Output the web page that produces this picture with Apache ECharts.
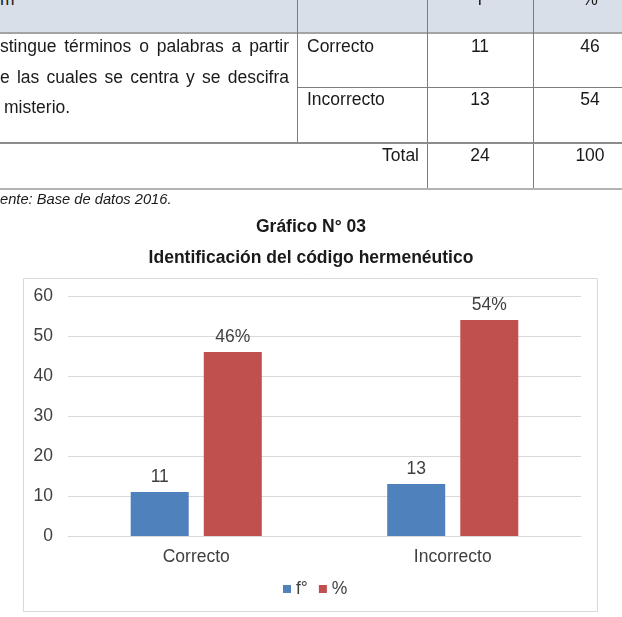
<!DOCTYPE html>
<html><head><meta charset="utf-8">
<script src="https://cdn.jsdelivr.net/npm/echarts@6/dist/echarts.min.js"></script>
<style>
html,body{margin:0;padding:0;width:622px;height:617px;overflow:hidden;background:#fff;}
#chart{position:absolute;left:0;top:0;width:622px;height:617px;}
#doc{position:absolute;left:0;top:0;width:622px;height:617px;pointer-events:none;font-family:"Liberation Sans",Arial,sans-serif;color:#1a1a1a;}
.t{position:absolute;white-space:nowrap;line-height:20px;}
.j{position:absolute;line-height:20px;text-align:justify;text-align-last:justify;}
.ln{position:absolute;}
</style></head><body>
<div id="chart"></div>
<div id="doc"></div>
<script>
// ---- data ----
const categories = ['Correcto', 'Incorrecto'];
const seriesNames = ['f°', '%'];
const freq = [11, 13];
const pct = [46, 54];
const totalFreq = 24;
const totalPct = 100;
const itemLines = ['stingue términos o palabras a partir', 'e las cuales se centra y se descifra', 'misterio.'];
const headerTexts = ['m', 'f', '%'];
const sourceText = 'ente: Base de datos 2016.';
const titleTexts = ['Gráfico N° 03', 'Identificación del código hermenéutico'];

// ---- document (table + titles) ----
const doc = document.getElementById('doc');
function box(x, y, w, h, color) {
  const d = document.createElement('div');
  d.className = 'ln';
  d.style.cssText = `left:${x}px;top:${y}px;width:${w}px;height:${h}px;background:${color};`;
  doc.appendChild(d);
}
function txt(s, x, base, align, opt) {
  opt = opt || {};
  const fs = opt.fs || 17.5;
  const d = document.createElement('div');
  d.className = opt.justify ? 'j' : 't';
  const top = base - ((20 - 1.117 * fs) / 2 + 0.905 * fs);
  let style = `top:${top}px;font-size:${fs}px;`;
  if (opt.bold) style += 'font-weight:bold;';
  if (opt.italic) style += 'font-style:italic;';
  if (opt.color) style += `color:${opt.color};`;
  if (opt.justify) style += `left:${x}px;width:${opt.width}px;`;
  else if (align === 'left') style += `left:${x}px;`;
  else if (align === 'right') style += `right:${622 - x}px;text-align:right;`;
  else style += `left:${x - 200}px;width:400px;text-align:center;`;
  d.style.cssText = style;
  d.textContent = s;
  doc.appendChild(d);
}
// header
box(0, 0, 622, 33, '#d9dfe8');
box(0, 32, 622, 2, '#a3a3a3');
// vertical lines
box(297, 0, 1, 143, '#7d7d7d');
box(427, 0, 1, 189, '#7d7d7d');
box(533, 0, 1, 189, '#7d7d7d');
// horizontal lines
box(297, 87, 325, 1, '#7d7d7d');
box(0, 142, 622, 2, '#8c8c8c');
box(0, 188, 622, 2, '#b3b3b3');

txt(headerTexts[0], 0, 5, 'left');
txt(headerTexts[1], 480, 5, 'center');
txt(headerTexts[2], 590, 5, 'center');

txt(itemLines[0], 0, 52.3, 'left', {justify: true, width: 289});
txt(itemLines[1], 0, 82.8, 'left', {justify: true, width: 289});
txt(itemLines[2], 4, 113.3, 'left');

txt(categories[0], 307, 52.3, 'left');
txt(String(freq[0]), 480, 52.3, 'center');
txt(String(pct[0]), 590, 52.3, 'center');
txt(categories[1], 307, 105.3, 'left');
txt(String(freq[1]), 480, 105.3, 'center');
txt(String(pct[1]), 590, 105.3, 'center');
txt('Total', 419, 160.7, 'right');
txt(String(totalFreq), 480, 160.7, 'center');
txt(String(totalPct), 590, 160.7, 'center');

txt(sourceText, 0, 204, 'left', {italic: true, fs: 14.7});
txt(titleTexts[0], 311, 232, 'center', {bold: true});
txt(titleTexts[1], 311, 263.3, 'center', {bold: true});

// ---- chart ----
const chart = echarts.init(document.getElementById('chart'), null, {renderer: 'canvas'});
const lbl = {fontSize: 17.5, color: '#404040', fontFamily: 'Liberation Sans, Arial, sans-serif'};
chart.setOption({
  animation: false,
  textStyle: {fontFamily: 'Liberation Sans, Arial, sans-serif'},
  graphic: [{
    type: 'rect', silent: true,
    shape: {x: 23.5, y: 278.5, width: 574, height: 333},
    style: {fill: 'none', stroke: '#d9d9d9', lineWidth: 1}
  }],
  grid: {left: 68, right: 41, top: 296, bottom: 81},
  legend: {
    data: seriesNames, left: 283, top: 580, padding: 0,
    itemWidth: 8, itemHeight: 8, itemGap: 11, icon: 'rect',
    textStyle: lbl
  },
  xAxis: {
    type: 'category', data: categories,
    axisLine: {lineStyle: {color: '#d9d9d9'}},
    axisTick: {show: false},
    axisLabel: Object.assign({margin: 12}, lbl)
  },
  yAxis: {
    type: 'value', min: 0, max: 60, interval: 10,
    axisLine: {show: false}, axisTick: {show: false},
    splitLine: {lineStyle: {color: '#d9d9d9'}},
    axisLabel: Object.assign({margin: 15}, lbl)
  },
  series: [
    {name: seriesNames[0], type: 'bar', data: freq, barWidth: 58, barGap: '26%',
     itemStyle: {color: '#4f81bd'},
     label: Object.assign({show: true, position: 'top', distance: 6}, lbl)},
    {name: seriesNames[1], type: 'bar', data: pct, barWidth: 58, barGap: '26%',
     itemStyle: {color: '#c0504d'},
     label: Object.assign({show: true, position: 'top', distance: 6, formatter: '{c}%'}, lbl)}
  ]
});
</script>
</body></html>
